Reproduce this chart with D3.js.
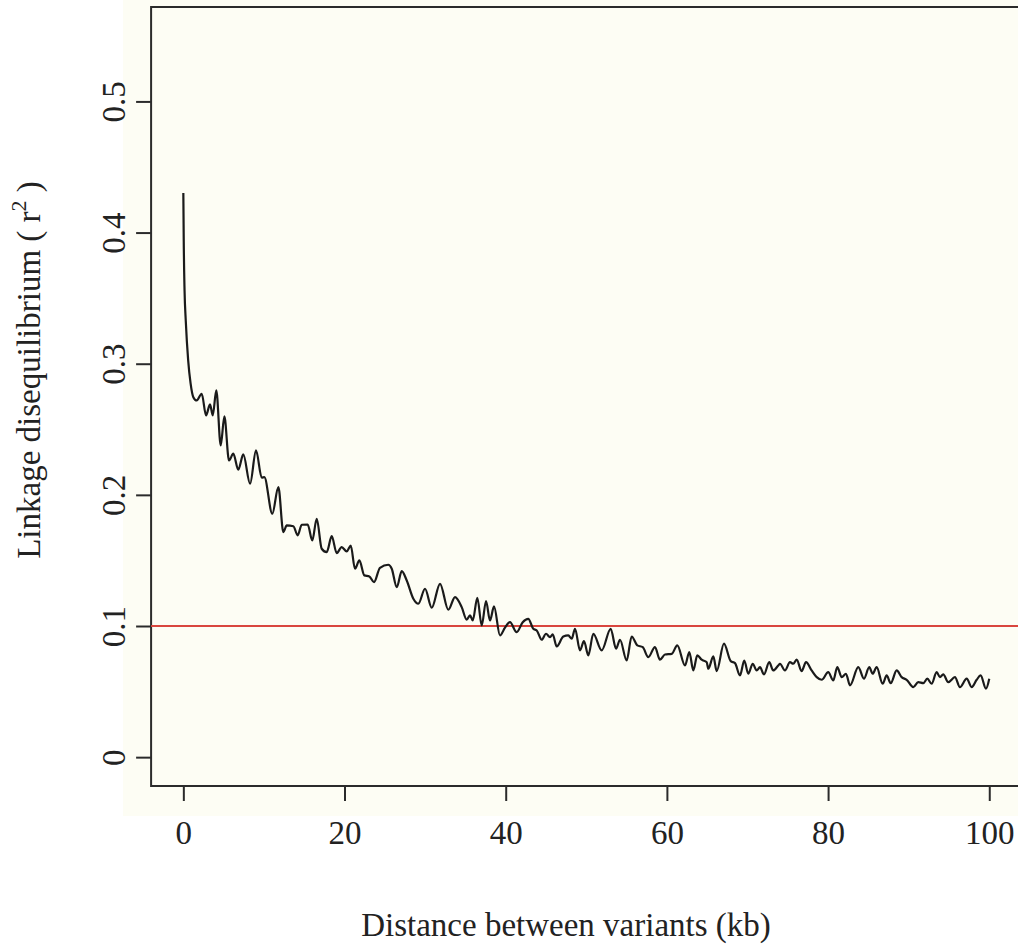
<!DOCTYPE html>
<html>
<head>
<meta charset="utf-8">
<script src="https://cdn.jsdelivr.net/npm/d3@7"></script>
<style>
  html, body { margin: 0; padding: 0; background: #ffffff; overflow: hidden; }
  svg { display: block; }
  text { font-family: "Liberation Serif", "Times New Roman", serif; fill: #222; }
</style>
</head>
<body>
<svg id="chart" width="1018" height="944"></svg>
<script>
// Distance between variants (kb)
const distanceKb = [
  0, 0.05, 0.15, 0.30, 0.60, 0.90, 1.24, 1.66, 2.28, 2.82, 3.31, 3.65, 4.09, 4.64, 5.09, 5.67,
  6.20, 6.82, 7.44, 8.28, 9.02, 9.73, 10.05, 11.04, 11.79, 12.41, 12.83, 13.65, 14.19, 14.69,
  15.43, 16.00, 16.55, 17.17, 17.79, 18.41, 19.03, 19.65, 20.27, 20.77, 21.30, 21.84, 22.46,
  23.08, 23.66, 24.40, 25.43, 25.86, 26.48, 27.10, 27.72, 28.54, 29.16, 29.99, 30.82, 31.85,
  32.88, 33.71, 34.54, 35.16, 35.57, 35.91, 36.48, 37.02, 37.56, 38.05, 38.55, 39.29, 39.91,
  40.53, 41.36, 42.11, 42.80, 43.42, 43.85, 44.47, 45.00, 45.50, 45.83, 46.33, 47.15, 47.77,
  48.19, 48.60, 49.22, 49.71, 50.25, 50.87, 51.91, 53.03, 53.69, 54.18, 55.01, 55.63, 56.33,
  57.00, 57.69, 58.52, 59.14, 59.76, 60.60, 61.29, 62.25, 62.78, 63.28, 63.77, 64.32, 64.94,
  65.14, 65.76, 66.18, 67.08, 67.92, 68.45, 69.07, 69.60, 70.10, 70.65, 71.14, 71.55, 72.05,
  72.70, 73.20, 73.82, 74.03, 74.65, 75.27, 75.68, 76.10, 76.72, 77.26, 77.96, 78.59, 79.21,
  80.02, 80.65, 81.14, 81.69, 82.22, 82.72, 83.75, 84.45, 85.11, 85.53, 86.03, 86.77, 87.27,
  87.77, 88.51, 89.13, 89.75, 90.57, 91.19, 91.81, 92.31, 92.85, 93.47, 93.88, 94.29, 94.91,
  95.74, 96.36, 97.20, 97.82, 98.44, 98.93, 99.59, 100.0
];
// Linkage disequilibrium r^2
const ldR2 = [
  0.4301, 0.3940, 0.3560, 0.3330, 0.3026, 0.2850, 0.2745, 0.2720, 0.2771, 0.2606, 0.2690, 0.2606,
  0.2796, 0.2377, 0.2598, 0.2262, 0.2314, 0.2192, 0.2308, 0.2085, 0.2339, 0.2131, 0.2135, 0.1856,
  0.2059, 0.1716, 0.1767, 0.1761, 0.1691, 0.1772, 0.1774, 0.1652, 0.1818, 0.1589, 0.1563, 0.1685,
  0.1556, 0.1601, 0.1569, 0.1614, 0.1437, 0.1500, 0.1386, 0.1378, 0.1334, 0.1444, 0.1467, 0.1437,
  0.1296, 0.1418, 0.1347, 0.1208, 0.1170, 0.1284, 0.1139, 0.1322, 0.1124, 0.1220, 0.1144, 0.1048,
  0.1081, 0.1042, 0.1215, 0.1004, 0.1190, 0.1042, 0.1149, 0.0928, 0.0987, 0.1029, 0.0953, 0.1029,
  0.1055, 0.0979, 0.0966, 0.0895, 0.0941, 0.0915, 0.0936, 0.0844, 0.0920, 0.0928, 0.0903, 0.0979,
  0.0814, 0.0885, 0.0776, 0.0941, 0.0814, 0.0979, 0.0827, 0.0895, 0.0737, 0.0920, 0.0852, 0.0839,
  0.0763, 0.0839, 0.0743, 0.0783, 0.0788, 0.0852, 0.0699, 0.0801, 0.0661, 0.0776, 0.0743, 0.0724,
  0.0674, 0.0768, 0.0656, 0.0865, 0.0732, 0.0717, 0.0623, 0.0737, 0.0636, 0.0712, 0.0661, 0.0686,
  0.0631, 0.0724, 0.0661, 0.0699, 0.0712, 0.0661, 0.0724, 0.0712, 0.0743, 0.0656, 0.0724, 0.0661,
  0.0610, 0.0590, 0.0648, 0.0585, 0.0686, 0.0610, 0.0636, 0.0547, 0.0686, 0.0598, 0.0686, 0.0636,
  0.0686, 0.0560, 0.0623, 0.0564, 0.0661, 0.0610, 0.0590, 0.0534, 0.0572, 0.0564, 0.0598, 0.0560,
  0.0648, 0.0610, 0.0631, 0.0572, 0.0610, 0.0534, 0.0598, 0.0534, 0.0590, 0.0623, 0.0522, 0.0598
];
const xTicks = [0, 20, 40, 60, 80, 100];
const yTicks = [0, 0.1, 0.2, 0.3, 0.4, 0.5];
const thresholdR2 = [0.1];
const xTitle = "Distance between variants (kb)";
const yTitleMain = "Linkage disequilibrium ( r";
const yTitleSup = "2";
const yTitleEnd = " )";

const W = 1018;
const svg = d3.select("#chart");

// Cream panel background
svg.append("rect").attr("x", 123).attr("y", 0).attr("width", W - 123).attr("height", 816)
  .attr("fill", "#fdfdf4");

const x = d3.scaleLinear().domain([-4, 104]).range([151.1, 1021.5]);
const y = d3.scaleLinear().domain([-0.022, 0.572]).range([786, 7]);

// Plot box: its right edge lies beyond the window, so only three sides are drawn
svg.append("path")
  .attr("fill", "none").attr("stroke", "#2b2b2b").attr("stroke-width", 2)
  .attr("d", `M${W},${y(0.572)} L${x(-4)},${y(0.572)} L${x(-4)},${y(-0.022)} L${W},${y(-0.022)}`);

// X axis
const xAxis = svg.append("g").attr("transform", `translate(0,${y(-0.022)})`)
  .call(d3.axisBottom(x).tickValues(xTicks).tickSize(15).tickPadding(20).tickFormat(d3.format("d")));
xAxis.select(".domain").remove();
xAxis.selectAll(".tick line").attr("stroke", "#2b2b2b").attr("stroke-width", 2);
xAxis.selectAll(".tick text")
  .attr("font-family", "Liberation Serif, serif").attr("font-size", 33).attr("fill", "#222")
  .attr("dy", "0.71em");

// Y axis
const yAxis = svg.append("g").attr("transform", `translate(${x(-4)},0)`)
  .call(d3.axisLeft(y).tickValues(yTicks).tickSize(15)
    .tickFormat(d => d === 0 ? "0" : d3.format(".1f")(d)));
yAxis.select(".domain").remove();
yAxis.selectAll(".tick line").attr("stroke", "#2b2b2b").attr("stroke-width", 2);
yAxis.selectAll(".tick text")
  .attr("font-family", "Liberation Serif, serif").attr("font-size", 33).attr("fill", "#222")
  .attr("x", null).attr("dy", null)
  .attr("text-anchor", "middle")
  .attr("transform", "translate(-26,0) rotate(-90)");

// Threshold line
svg.selectAll(".thresh").data(thresholdR2).enter().append("line")
  .attr("class", "thresh")
  .attr("x1", x(-4)).attr("x2", W)
  .attr("y1", d => y(d)).attr("y2", d => y(d))
  .attr("stroke", "#d9463e").attr("stroke-width", 1.8);

// LD decay curve
const pts = distanceKb.map((d, i) => [d, ldR2[i]]);
svg.append("path").datum(pts)
  .attr("fill", "none").attr("stroke", "#1a1a1a").attr("stroke-width", 2.2)
  .attr("stroke-linejoin", "round")
  .attr("d", d3.line().x(d => x(d[0])).y(d => y(d[1])).curve(d3.curveMonotoneX));

// Axis titles
svg.append("text").attr("x", 566).attr("y", 936).attr("text-anchor", "middle")
  .attr("font-size", 33).text(xTitle);

const yt = svg.append("text").attr("transform", "translate(40,370) rotate(-90)")
  .attr("text-anchor", "middle").attr("font-size", 33);
yt.append("tspan").text(yTitleMain);
yt.append("tspan").attr("font-size", 22).attr("dy", -14).text(yTitleSup);
yt.append("tspan").attr("dy", 14).text(yTitleEnd);
</script>
</body>
</html>
